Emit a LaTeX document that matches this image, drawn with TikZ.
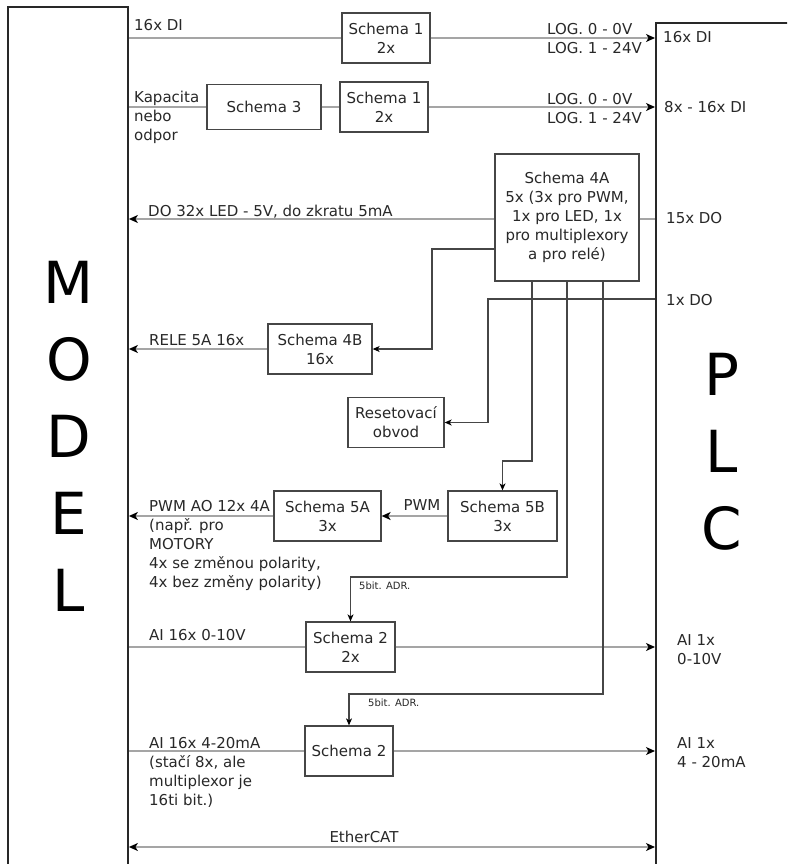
\documentclass[tikz,border=0pt]{standalone}
\usepackage{fontspec}
\setmainfont{DejaVu Sans}
\usetikzlibrary{arrows.meta}
\definecolor{framegray}{RGB}{40,40,40}
\definecolor{boxgray}{RGB}{70,70,70}
\definecolor{siggray}{RGB}{165,165,165}
\definecolor{txtgray}{RGB}{40,40,40}

\begin{document}
\begin{tikzpicture}[x=1pt, y=-1pt,
  every node/.style={font=\fontsize{15}{19}\selectfont, text=txtgray, inner sep=0pt},
  frame/.style={draw=framegray, line width=1.8pt, fill=white},
  schema/.style={draw=boxgray, line width=1.3pt, align=center, minimum height=50pt},
  big/.style={font=\fontsize{58}{77}\selectfont, text=black, align=center},
  lbl/.style={anchor=west, align=left},
  tiny/.style={anchor=west, font=\fontsize{10}{12}\selectfont},
  sig/.style={siggray, line width=1.3pt},
  wire/.style={boxgray, line width=1.1pt},
  tip/.style={-{Stealth[length=9pt, width=8pt, inset=2.5pt, color=black]}},
  tips/.style={{Stealth[length=9pt, width=8pt, inset=2.5pt, color=black]}-{Stealth[length=9pt, width=8pt, inset=2.5pt, color=black]}},
  stip/.style={-{Stealth[length=7pt, width=6pt, inset=2pt, color=black]}}
]
  \useasboundingbox (0,0) rectangle (787,864);
  \clip (0,0) rectangle (787,864);
  \fill[white] (0,0) rectangle (787,864);

  % MODEL and PLC
  \node[frame, anchor=north, minimum width=120pt, minimum height=900pt] (model) at (68,6) {};
  \node[frame, anchor=north west, minimum width=160pt, minimum height=900pt] (plc) at (655,22) {};
  \node[big] (modeltxt) at (69,436) {M\\O\\D\\E\\L};
  \node[big] (plctxt) at (722,452) {P\\L\\C};

  % schema blocks
  \node[schema, minimum width=88pt] (s1a) at (386,38) {Schema 1\\2x};
  \node[schema, minimum width=114pt, minimum height=45pt] (s3) at (264,107) {Schema 3};
  \node[schema, minimum width=88pt] (s1b) at (384,107) {Schema 1\\2x};
  \node[schema, minimum width=144pt, minimum height=127pt] (s4a) at (567,217.5)
        {Schema 4A\\5x (3x pro PWM,\\1x pro LED, 1x\\pro multiplexory\\a pro relé)};
  \node[schema, minimum width=104pt] (s4b) at (320,349) {Schema 4B\\16x};
  \node[schema, minimum width=96pt] (reset) at (396,422.5) {Resetovací\\obvod};
  \node[schema, minimum width=107pt] (s5a) at (327.5,516) {Schema 5A\\3x};
  \node[schema, minimum width=109pt] (s5b) at (502.5,516) {Schema 5B\\3x};
  \node[schema, minimum width=89pt] (s2a) at (350.5,647) {Schema 2\\2x};
  \node[schema, minimum width=88pt] (s2b) at (349,751) {Schema 2};

  % signals between MODEL and PLC
  \draw[sig] (model.east |- s1a) -- (s1a.west);
  \draw[sig, tip] (s1a.east) -- (plc.west |- s1a);
  \draw[sig] (model.east |- s3) -- (s3.west);
  \draw[sig] (s3.east) -- (s1b.west);
  \draw[sig, tip] (s1b.east) -- (plc.west |- s1b);
  \draw[sig, tip] (s4a.west |- 0,219) -- (model.east |- 0,219);
  \draw[sig] (s4a.east |- 0,219) -- (plc.west |- 0,219);
  \draw[sig, tip] (s4b.west) -- (model.east |- s4b);
  \draw[sig, tip] (s5b.west) -- (s5a.east);
  \draw[sig, tip] (s5a.west) -- (model.east |- s5a);
  \draw[sig] (model.east |- s2a) -- (s2a.west);
  \draw[sig, tip] (s2a.east) -- (plc.west |- s2a);
  \draw[sig] (model.east |- s2b) -- (s2b.west);
  \draw[sig, tip] (s2b.east) -- (plc.west |- s2b);
  \draw[sig, tips] (model.east |- 0,847) -- (plc.west |- 0,847);

  % control wires
  \draw[wire, stip] (s4a.west |- 0,249) -- (432,249) |- (s4b.east);
  \draw[wire, stip] (plc.west |- 0,299) -- (488,299) |- (reset.east);
  \draw[wire, stip] (s4a.south -| 532,0) -- (532,461) -| (s5b.north);
  \draw[wire, stip] (s4a.south -| 567,0) -- (567,577) -| (s2a.north);
  \draw[wire, stip] (s4a.south -| 603,0) -- (603,694) -| (s2b.north);

  % labels
  \node[lbl] (diin) at (134,25) {16x DI};
  \node[lbl] (kap) at (134,117.5) {Kapacita\\nebo\\odpor};
  \node[lbl] (log1) at (547,38.5) {LOG. 0 - 0V\\LOG. 1 - 24V};
  \node[lbl] (log2) at (547,109) {LOG. 0 - 0V\\LOG. 1 - 24V};
  \node[lbl] (led) at (148,212) {DO 32x LED - 5V, do zkratu 5mA};
  \node[lbl] (rele) at (149,340) {RELE 5A 16x};
  \node[lbl] (pwmao) at (149,545.5)
        {PWM AO 12x 4A\\(např. pro\\MOTORY\\4x se změnou polarity,\\4x bez změny polarity)};
  \node (pwm) at (422,505) {PWM};
  \node[tiny] (adr1) at (359,586) {5bit. ADR.};
  \node[tiny] (adr2) at (368,703) {5bit. ADR.};
  \node[lbl] (ai1) at (149,635) {AI 16x 0-10V};
  \node[lbl] (ai2) at (149,772) {AI 16x 4-20mA\\(stačí 8x, ale\\multiplexor je\\16ti bit.)};
  \node (ecat) at (364,837) {EtherCAT};

  % PLC side
  \node[lbl] (pdi) at (663,37) {16x DI};
  \node[lbl] (pdi2) at (664,107) {8x - 16x DI};
  \node[lbl] (pdo) at (666,218) {15x DO};
  \node[lbl] (pdo2) at (666,300) {1x DO};
  \node[lbl] (pai1) at (677,650) {AI 1x\\0-10V};
  \node[lbl] (pai2) at (677,753) {AI 1x\\4 - 20mA};
\end{tikzpicture}
\end{document}
